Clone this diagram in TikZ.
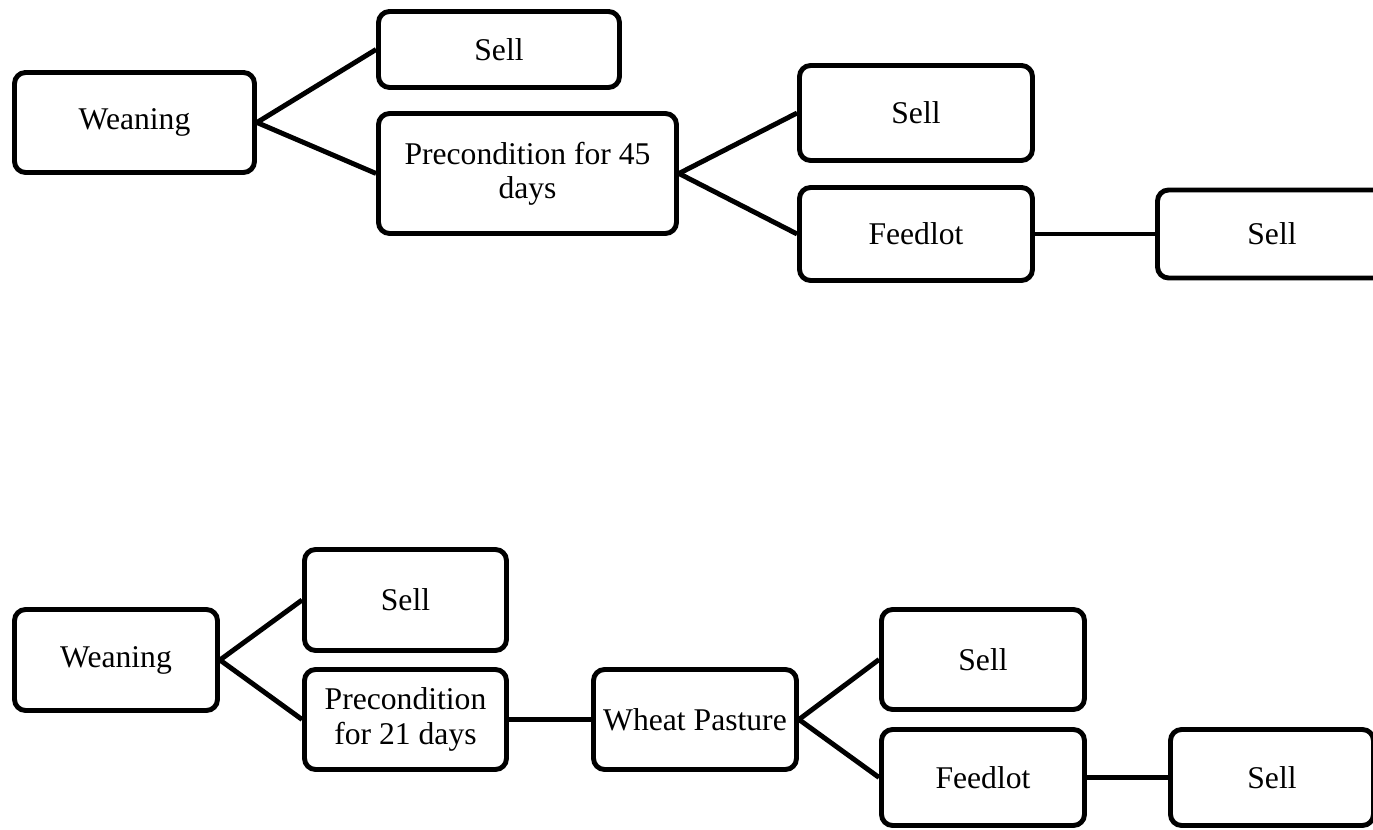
\documentclass[tikz,border=0pt]{standalone}
\usepackage{fontspec}
\setmainfont{Liberation Serif}
\usetikzlibrary{positioning}

\begin{document}
\begin{tikzpicture}[x=0.02cm, y=-0.02cm,
  stage/.style={draw, line width=2.8pt, rounded corners=0.22cm, align=center,
    inner sep=2pt, font=\fontsize{18}{19.5}\selectfont},
  link/.style={line width=2.8pt}]
\useasboundingbox (0,0) rectangle (1373,830);

% top chain
\node[stage, minimum width=4.80cm, minimum height=2.00cm] (wean1) at (134.5,122.5) {Weaning};
\node[stage, minimum width=4.82cm, minimum height=1.52cm] (sell1) at (499,49.5) {Sell};
\node[stage, minimum width=5.96cm, minimum height=2.40cm] (pre45) at (527.5,173.5) {Precondition for 45\\days};
\node[stage, minimum width=4.66cm, minimum height=1.90cm] (sell2) at (916,113) {Sell};
\node[stage, minimum width=4.66cm, minimum height=1.86cm] (feed1) at (916,234) {Feedlot};
\node[stage, minimum width=4.58cm, minimum height=1.76cm] (sell3) at (1272,234) {Sell};
\draw[link](wean1.east)--(sell1.west);
\draw[link](wean1.east)--(pre45.west);
\draw[link](pre45.east)--(sell2.west);
\draw[link](pre45.east)--(feed1.west);
\draw[link](feed1.east)--(sell3.west);

% bottom chain
\node[stage, minimum width=4.06cm, minimum height=2.02cm] (wean2) at (116,660) {Weaning};
\node[stage, minimum width=4.04cm, minimum height=2.02cm] (sell4) at (405.5,600) {Sell};
\node[stage, minimum width=4.04cm, minimum height=2.00cm] (pre21) at (405.5,719.5) {Precondition\\for 21 days};
\node[stage, minimum width=4.06cm, minimum height=2.00cm] (wheat) at (695,719.5) {Wheat Pasture};
\node[stage, minimum width=4.06cm, minimum height=2.00cm] (sell5) at (983,659.5) {Sell};
\node[stage, minimum width=4.06cm, minimum height=1.92cm] (feed2) at (983,777.5) {Feedlot};
\node[stage, minimum width=4.06cm, minimum height=1.92cm] (sell6) at (1272,777.5) {Sell};
\draw[link](wean2.east)--(sell4.west);
\draw[link](wean2.east)--(pre21.west);
\draw[link](pre21.east)--(wheat.west);
\draw[link](wheat.east)--(sell5.west);
\draw[link](wheat.east)--(feed2.west);
\draw[link](feed2.east)--(sell6.west);
\end{tikzpicture}
\end{document}
